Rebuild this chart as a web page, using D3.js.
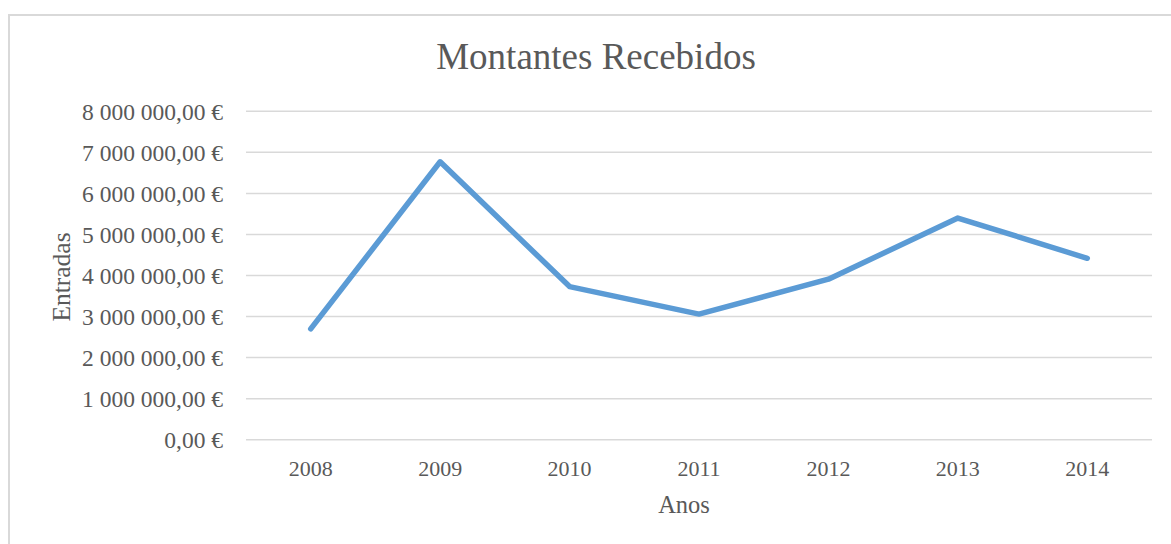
<!DOCTYPE html>
<html>
<head>
<meta charset="utf-8">
<script src="https://cdn.jsdelivr.net/npm/d3@7"></script>
<style>
  body { margin: 0; background: #fff; }
  svg text { font-family: "Liberation Serif", "Times New Roman", serif; fill: #595959; }
</style>
</head>
<body>
<svg id="chart" width="1171" height="544"></svg>
<script>
// data
const years = ["2008", "2009", "2010", "2011", "2012", "2013", "2014"];
const amounts = [2700000, 6770000, 3730000, 3060000, 3910000, 5400000, 4420000];
const yTicks = [0, 1000000, 2000000, 3000000, 4000000, 5000000, 6000000, 7000000, 8000000];

const svg = d3.select("#chart");

// chart frame (right side is cut off in the original)
svg.append("path")
  .attr("d", "M9,545 V15 H1172")
  .attr("fill", "none")
  .attr("stroke", "#d9d9d9")
  .attr("stroke-width", 2);

// plot area
const plotLeft = 246, plotRight = 1152, plotTop = 111.3, plotBottom = 439.7;

const xScale = d3.scaleBand().domain(years).range([plotLeft, plotRight]);
const yScale = d3.scaleLinear().domain([0, 8000000]).range([plotBottom, plotTop]);

// euro format like "7 000 000,00 €"
const fmt = (v) => {
  const s = d3.format(",.2f")(v);
  return s.replace(/,/g, " ").replace(".", ",") + " €";
};

// gridlines
svg.append("g")
  .selectAll("line")
  .data(yTicks)
  .enter()
  .append("line")
  .attr("x1", plotLeft)
  .attr("x2", plotRight)
  .attr("y1", (d) => yScale(d))
  .attr("y2", (d) => yScale(d))
  .attr("stroke", "#d9d9d9")
  .attr("stroke-width", 1.5);

// y axis labels
const yAxis = svg.append("g")
  .attr("transform", "translate(" + 223 + ",0)")
  .call(d3.axisLeft(yScale).tickValues(yTicks).tickFormat(fmt).tickSize(0).tickPadding(0));
yAxis.select(".domain").remove();
yAxis.selectAll("text")
  .style("font-size", "23.5px")
  .attr("fill", "#595959")
  .attr("dy", "0.35em");

// x axis labels
const xAxis = svg.append("g")
  .attr("transform", "translate(0," + plotBottom + ")")
  .call(d3.axisBottom(xScale).tickSize(0).tickPadding(0));
xAxis.select(".domain").remove();
xAxis.selectAll("text")
  .style("font-size", "22px")
  .attr("fill", "#595959")
  .attr("y", 36)
  .attr("dy", 0);

// line
const line = d3.line()
  .x((d, i) => xScale(years[i]) + xScale.bandwidth() / 2)
  .y((d) => yScale(d));

svg.append("path")
  .datum(amounts)
  .attr("d", line)
  .attr("fill", "none")
  .attr("stroke", "#5b9bd5")
  .attr("stroke-width", 5.5)
  .attr("stroke-linejoin", "round")
  .attr("stroke-linecap", "round");

// title
svg.append("text")
  .attr("x", 596)
  .attr("y", 68.5)
  .attr("text-anchor", "middle")
  .style("font-size", "37px")
  .text("Montantes Recebidos");

// x label
svg.append("text")
  .attr("x", 684)
  .attr("y", 513)
  .attr("text-anchor", "middle")
  .style("font-size", "24.5px")
  .text("Anos");

// y label
svg.append("text")
  .attr("text-anchor", "middle")
  .attr("transform", "translate(70,277)rotate(-90)")
  .style("font-size", "25.5px")
  .text("Entradas");
</script>
</body>
</html>
